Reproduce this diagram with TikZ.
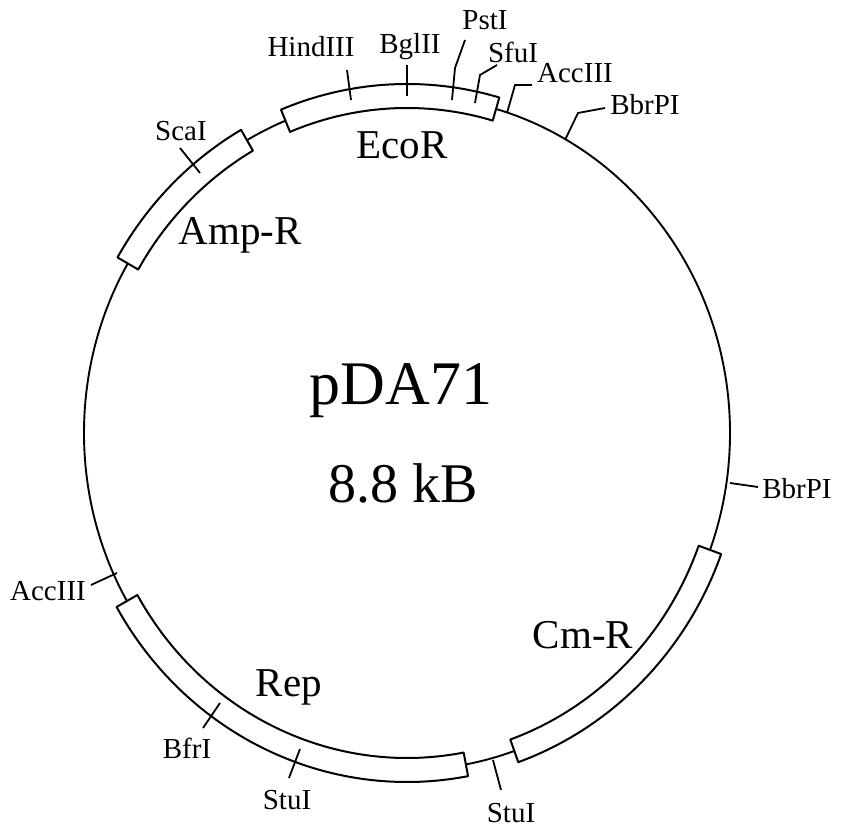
\documentclass[tikz,border=0pt]{standalone}
\usepackage{fontspec}
\setmainfont{Liberation Serif}
\usetikzlibrary{positioning}
\tikzset{
  backbone/.style={draw=black,line width=.95pt},
  genebox/.style={fill=white,draw=black,line width=1pt,line join=round},
  sitetick/.style={draw=black,line width=.9pt},
  sitelabel/.style={font=\fontsize{14.5}{16}\selectfont,inner sep=0pt},
  genelabel/.style={font=\fontsize{20.5}{22}\selectfont,inner sep=0pt},
}
\newcommand{\genebox}[2]{%
  \filldraw[genebox] (#1:335 and 349)
    arc[start angle=#1,end angle=#2,x radius=335,y radius=349]
    -- (#2:311 and 325)
    arc[start angle=#2,end angle=#1,x radius=311,y radius=325] -- cycle;
}
\begin{document}
\begin{tikzpicture}[x=.5pt,y=.5pt]
  \useasboundingbox (0,0) rectangle (841,830);
  \begin{scope}[shift={(407,397)}]
    \draw[backbone] (0,0) ellipse [x radius=323,y radius=337];
    \genebox{74}{112.1}
    \genebox{119.7}{149.8}
    \genebox{209.9}{280.5}
    \genebox{289.4}{339.7}
  \end{scope}
  % gene names
  \node[genelabel] (ecor) at (402,685) {EcoR};
  \node[genelabel] (ampr) at (240,595) {Amp-R};
  \node[genelabel] (cmr) at (583,195) {Cm-R};
  \node[genelabel] (rep) at (289,143) {Rep};
  \node[font=\fontsize{31}{33}\selectfont,inner sep=0pt] (name) at (401,439) {pDA71};
  \node[font=\fontsize{28}{30}\selectfont,inner sep=0pt] (size) at (403,347) {8.8 kB};
  % restriction sites
  \node[sitelabel] (hind) at (311,783) {HindIII};
  \node[sitelabel] (bgl) at (410,783) {BglII};
  \node[sitelabel] (pst) at (485,810) {PstI};
  \node[sitelabel] (sfu) at (513,778) {SfuI};
  \node[sitelabel] (accb) at (575,757) {AccIII};
  \node[sitelabel] (bbra) at (645,725) {BbrPI};
  \node[sitelabel] (bbrb) at (797,341) {BbrPI};
  \node[sitelabel] (stua) at (511,17) {StuI};
  \node[sitelabel] (stub) at (287,30) {StuI};
  \node[sitelabel] (bfr) at (187,82) {BfrI};
  \node[sitelabel] (acca) at (48,239) {AccIII};
  \node[sitelabel] (sca) at (181,699) {ScaI};
  % ticks
  \coordinate (hindtop) at (347,760); \coordinate (hindcut) at (351,730);
  \coordinate (bgltop) at (407,765); \coordinate (bglcut) at (407,734);
  \coordinate (psttop) at (465,790); \coordinate (pstcut) at (452,730);
  \coordinate (sfutop) at (497,765); \coordinate (sfucut) at (475,727);
  \coordinate (accbtop) at (532,745); \coordinate (accbcut) at (507,717);
  \coordinate (bbratop) at (605,722); \coordinate (bbracut) at (565,690);
  \coordinate (bbrbtop) at (758,343); \coordinate (bbrbcut) at (730,347);
  \coordinate (stuatop) at (501,40); \coordinate (stuacut) at (493,70);
  \coordinate (stubtop) at (289,52); \coordinate (stubcut) at (300,81);
  \coordinate (bfrtop) at (203,102); \coordinate (bfrcut) at (220,127);
  \coordinate (accatop) at (91,245); \coordinate (accacut) at (117,257);
  \coordinate (scatop) at (180,682); \coordinate (scacut) at (200,657);
  \draw[sitetick] (hindtop) -- (hindcut);
  \draw[sitetick] (bgltop) -- (bglcut);
  \draw[sitetick] (psttop) -- (455,762) -- (pstcut);
  \draw[sitetick] (sfutop) -- (480,755) -- (sfucut);
  \draw[sitetick] (accbtop) -- (515,745) -- (accbcut);
  \draw[sitetick] (bbratop) -- (578,717) -- (bbracut);
  \draw[sitetick] (bbrbtop) -- (bbrbcut);
  \draw[sitetick] (stuatop) -- (stuacut);
  \draw[sitetick] (stubtop) -- (stubcut);
  \draw[sitetick] (bfrtop) -- (bfrcut);
  \draw[sitetick] (accatop) -- (accacut);
  \draw[sitetick] (scatop) -- (scacut);
\end{tikzpicture}
\end{document}
